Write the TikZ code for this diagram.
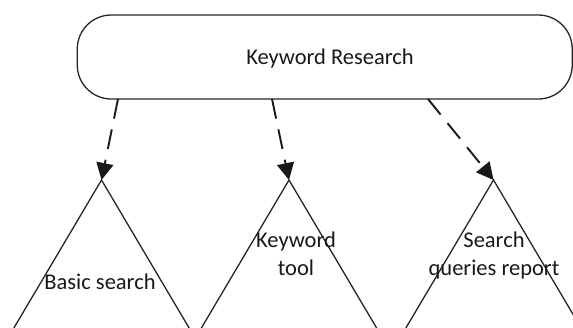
\documentclass[tikz,border=0pt]{standalone}
\usepackage{fontspec}
\setmainfont{Carlito}
\usetikzlibrary{arrows.meta}
\tikzset{
  boxshape/.style={draw=black!85, line width=1.3pt, rounded corners=34pt, minimum width=495pt, minimum height=84pt, inner sep=0pt},
  labeltext/.style={font=\fontsize{22.5}{28}\selectfont, text=black!90, align=center, inner sep=0pt},
  tri/.style={draw=black!85, line width=1.3pt, line join=miter},
  dasharrow/.style={draw=black!90, line width=1.9pt, dash pattern=on 20pt off 11pt, -{Triangle[length=17pt,width=17pt]}, shorten >=0pt}
}
\begin{document}
\begin{tikzpicture}[x=1pt,y=-1pt]
\useasboundingbox (0,0) rectangle (573,327);
\clip (0,0) rectangle (573,327);
\node[boxshape] (kr) at (324.75,57) {};
\node[labeltext, anchor=base] (krt) at (330,64) {Keyword Research};
% apexes
\coordinate (a1) at (101.5,180);
\coordinate (a2) at (289,180);
\coordinate (a3) at (493.5,180);
% arrow starts on the box bottom
\coordinate (s1) at (118,99);
\coordinate (s2) at (272,99);
\coordinate (s3) at (428,99);
% triangles (base lies just below the lower edge)
\draw[tri] (a1) -- ++(-90,152) -- ++(180,0) -- cycle;
\draw[tri] (a2) -- ++(-90,152) -- ++(180,0) -- cycle;
\draw[tri] (a3) -- ++(-90,152) -- ++(180,0) -- cycle;
% labels
\node[labeltext, anchor=base] (l1) at (100,289) {Basic search};
\node[labeltext, anchor=base] (l2) at (296,275) {Keyword\\tool};
\node[labeltext, anchor=base] (l3) at (494,275) {Search\\queries report};
% arrows
\draw[dasharrow] (s1) -- (a1);
\draw[dasharrow] (s2) -- (a2);
\draw[dasharrow] (s3) -- (a3);
\end{tikzpicture}
\end{document}
